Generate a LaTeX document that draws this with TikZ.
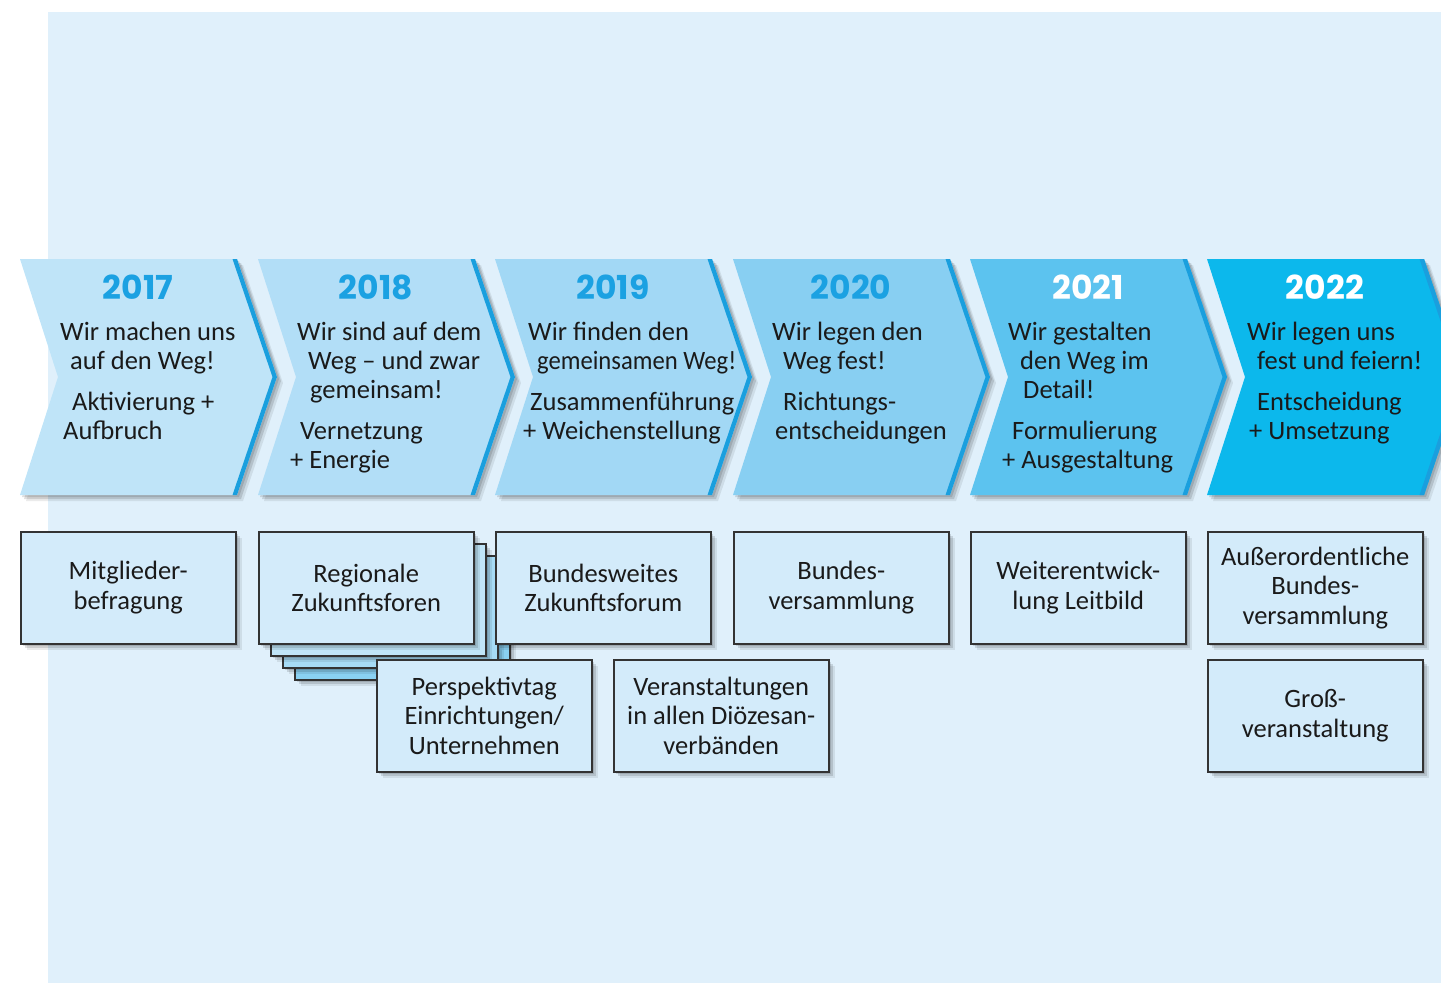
\documentclass[tikz,border=0pt]{standalone}
\usepackage{fontspec}
\setmainfont{Carlito}
\newfontfamily\yearfont{Poppins}
\usetikzlibrary{shadows}

\definecolor{bgblue}{HTML}{E0F0FB}
\definecolor{c2017}{HTML}{BFE4F8}
\definecolor{c2018}{HTML}{B2DEF7}
\definecolor{c2019}{HTML}{A2D8F5}
\definecolor{c2020}{HTML}{88CFF2}
\definecolor{c2021}{HTML}{5CC3EF}
\definecolor{c2022}{HTML}{0CB8EC}
\definecolor{stripe}{HTML}{1A9FDE}
\definecolor{yrblue}{HTML}{1BA1E2}
\definecolor{cardfill}{HTML}{D3EBFA}
\definecolor{cardline}{HTML}{333333}
\definecolor{stackA}{HTML}{C0E5F8}
\definecolor{stackB}{HTML}{A6DBF5}
\definecolor{stackC}{HTML}{8AD1F2}
\definecolor{txtgray}{HTML}{1A1A1A}

\tikzset{
  shade/.style={
    drop shadow={shadow xshift=2pt, shadow yshift=-2pt, opacity=0.12, fill=black},
    drop shadow={shadow xshift=4pt, shadow yshift=-4pt, opacity=0.12, fill=black},
    drop shadow={shadow xshift=6pt, shadow yshift=-6pt, opacity=0.08, fill=black}},
  yr/.style={font=\yearfont\bfseries\fontsize{33}{33}\selectfont, anchor=base, inner sep=0},
  txt/.style={font=\fontsize{26.5}{29}\selectfont, anchor=base west, inner sep=0, text=txtgray},
  card/.style={draw=cardline, line width=1.5pt, fill=cardfill, anchor=north west,
    minimum width=215pt, minimum height=112pt, inner sep=0, align=center,
    font=\fontsize{26.5}{29.5}\selectfont, text=txtgray, shade},
}

\begin{document}
\begin{tikzpicture}[x=1pt, y=-1pt]
  \useasboundingbox (0,0) rectangle (1441,983);
  \clip (0,0) rectangle (1441,983);
  \fill[bgblue] (48,12) rectangle (1441,983);

  % chevrons
  \foreach \x/\c/\yc/\yr in {20/c2017/yrblue/2017, 258/c2018/yrblue/2018, 495/c2019/yrblue/2019,
      733/c2020/yrblue/2020, 970/c2021/white/2021, 1207/c2022/white/2022} {
    \path[fill=\c, shade] (\x,259) -- ++(217,0) -- ++(40,118) -- ++(-40,118) -- ++(-217,0) -- ++(38,-118) -- cycle;
    \fill[stripe] (\x+217,259) -- (\x+257,377) -- (\x+217,495) -- (\x+212.5,495) -- (\x+252.5,377) -- (\x+212.5,259) -- cycle;
    \node[yr, text=\yc] (y\yr) at (\x+118,299) {\yr};
  }

  % texts in the chevrons
  \foreach \tx/\ty/\t [count=\i] in {
      60/340/Wir machen uns, 70/369/auf den Weg!, 72/410/Aktivierung +, 63/439/Aufbruch,
      297/340/Wir sind auf dem, 308/369/Weg – und zwar, 310/398/gemeinsam!, 300/439/Vernetzung, 290/468/+ Energie,
      528/340/Wir finden den, 537/369/\scalebox{0.93}[1]{gemeinsamen Weg!}, 530/410/Zusammenführung, 523/439/+ Weichenstellung,
      772/340/Wir legen den, 783/369/Weg fest!, 783/410/Richtungs-, 775/439/entscheidungen,
      1008/340/Wir gestalten, 1020/369/den Weg im, 1023/398/Detail!, 1012/439/Formulierung, 1002/468/+ Ausgestaltung,
      1247/340/Wir legen uns, 1257/369/fest und feiern!, 1257/410/Entscheidung, 1249/439/+ Umsetzung}
    \node[txt] (l\i) at (\tx,\ty) {\t};

  % cards
  \node[card] (mitglieder) at (20,531) {Mitglieder-\\befragung};
  \node[card, fill=stackC] (stack3) at (294,567) {};
  \node[card, fill=stackB] (stack2) at (282,555) {};
  \node[card, fill=stackA] (stack1) at (270,543) {};
  \node[card] (regional) at (258,531) {Regionale\\Zukunftsforen};
  \node[card] (bundesweit) at (495,531) {Bundesweites\\Zukunftsforum};
  \node[card] (bv) at (733,531) {Bundes-\\versammlung};
  \node[card] (leitbild) at (970,531) {Weiterentwick-\\lung Leitbild};
  \node[card] (abv) at (1207,531) {Außerordentliche\\Bundes-\\versammlung};
  \node[card] (perspektiv) at (376,659) {Perspektivtag\\Einrichtungen/\\Unternehmen};
  \node[card] (dv) at (613,659) {Veranstaltungen\\in allen Diözesan-\\verbänden};
  \node[card] (gross) at (1207,659) {Groß-\\veranstaltung};
\end{tikzpicture}
\end{document}
